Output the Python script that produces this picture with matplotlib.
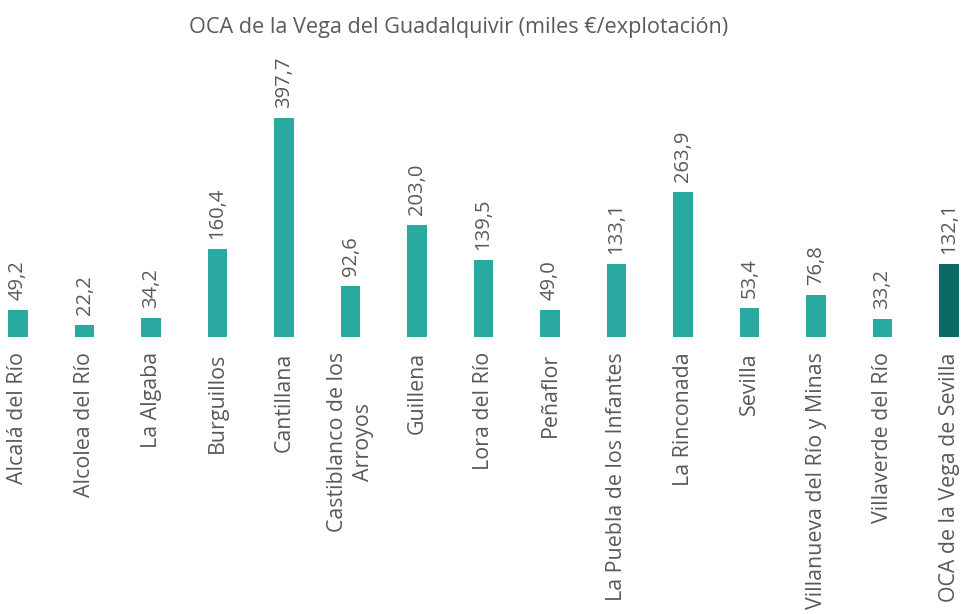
import matplotlib
matplotlib.use("Agg")
import matplotlib.pyplot as plt

categories = ["Alcalá del Río", "Alcolea del Río", "La Algaba", "Burguillos", "Cantillana",
              "Castiblanco de los\nArroyos", "Guillena", "Lora del Río", "Peñaflor",
              "La Puebla de los Infantes", "La Rinconada", "Sevilla",
              "Villanueva del Río y Minas", "Villaverde del Río", "OCA de la Vega de Sevilla"]
values = [49.2, 22.2, 34.2, 160.4, 397.7, 92.6, 203.0, 139.5, 49.0, 133.1, 263.9, 53.4, 76.8, 33.2, 132.1]
value_labels = ["49,2", "22,2", "34,2", "160,4", "397,7", "92,6", "203,0", "139,5", "49,0",
                "133,1", "263,9", "53,4", "76,8", "33,2", "132,1"]
title = "OCA de la Vega del Guadalquivir (miles €/explotación)"

teal = "#2AA9A1"
dark = "#0B6A66"
txt = "#595959"
plt.rcParams['font.family'] = ['Open Sans', 'DejaVu Sans']

fig = plt.figure(figsize=(9.63, 6.14), dpi=100)
ax = fig.add_axes([0, 277/614, 1, 337/614])
x = list(range(len(categories)))
colors = [teal] * (len(categories) - 1) + [dark]
ax.bar(x, values, width=0.3, color=colors)
ax.set_xlim(-18/66.5, 14 + 14/66.5)
ax.set_ylim(0, 337/0.551)
for xi, v, lab in zip(x, values, value_labels):
    ax.annotate(lab, (xi, v), xytext=(0, 7), textcoords="offset points",
                rotation=90, ha="center", va="bottom", fontsize=14.5, color=txt)
ax.set_xticks(x)
ax.set_xticklabels(categories, rotation=90, fontsize=15.4, color=txt,
                   ha="center", va="top", multialignment="center", linespacing=1.35)
ax.tick_params(axis="x", length=0, pad=11)
ax.set_yticks([])
for s in ax.spines.values():
    s.set_visible(False)
fig.text(459/963, 1 - 28/614, title, ha="center", va="center", fontsize=15.6, color=txt)
fig.savefig("out.png", dpi=100)
